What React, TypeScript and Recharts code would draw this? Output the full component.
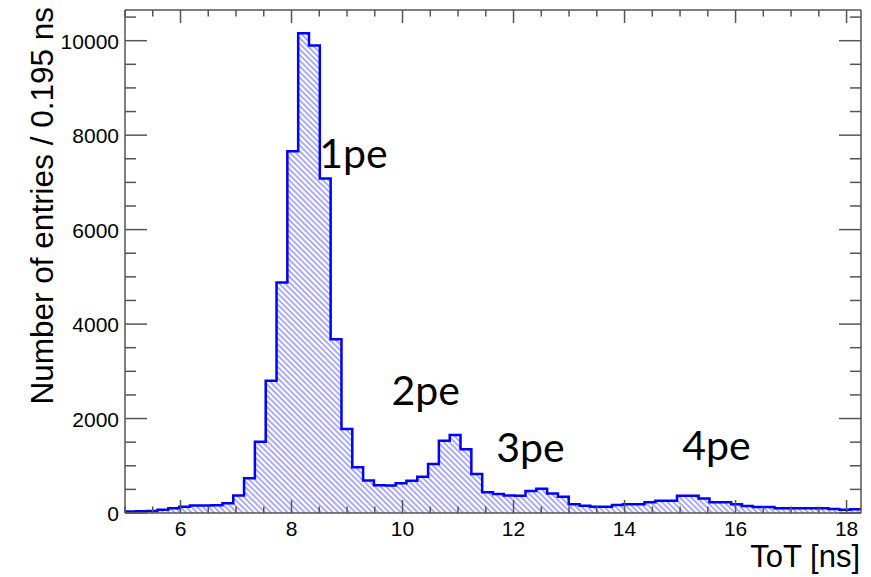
import {
  ComposedChart,
  Area,
  XAxis,
  YAxis,
  ReferenceDot,
  Label,
} from 'recharts';

// ── Données ────────────────────────────────────────────────

const BIN_START = 5;
const BIN_WIDTH = 0.195;

// entries per 0.195 ns bin, starting at 5 ns (68 bins)
const COUNTS = [
  30, 35, 40, 70, 100, 130, 160, 160, 165, 205,
  370, 735, 1510, 2800, 4880, 7660, 10160, 9900, 7080, 3680,
  1780, 970, 690, 590, 580, 630, 685, 770, 1040, 1530,
  1650, 1350, 825, 440, 400, 370, 365, 465, 515, 415,
  345, 185, 155, 130, 130, 170, 185, 185, 225, 260,
  260, 365, 365, 305, 225, 225, 185, 150, 125, 125,
  100, 100, 100, 100, 100, 85, 70, 80,
];

const X_TICKS = [
  5, 5.5, 6, 6.5, 7, 7.5, 8, 8.5, 9, 9.5, 10, 10.5, 11, 11.5,
  12, 12.5, 13, 13.5, 14, 14.5, 15, 15.5, 16, 16.5, 17, 17.5, 18,
];
const Y_TICKS = [
  0, 500, 1000, 1500, 2000, 2500, 3000, 3500, 4000, 4500, 5000,
  5500, 6000, 6500, 7000, 7500, 8000, 8500, 9000, 9500, 10000, 10500,
];

const PE_TEXT = ['1pe', '2pe', '3pe', '4pe'];
const PE_X = [8.5, 9.8, 11.69, 15.04];
const PE_Y = [7300, 2290, 1090, 1120];

const X_MAX = BIN_START + COUNTS.length * BIN_WIDTH;
const Y_MAX = 10650;

// step points : bin low edges + closing edge
const data = [
  ...COUNTS.map((c, i) => ({ x: BIN_START + i * BIN_WIDTH, y: c })),
  { x: X_MAX, y: COUNTS[COUNTS.length - 1] },
];

// ── Styles ─────────────────────────────────────────────────

const FRAME = '#555555';
const SANS = '"Liberation Sans", Arial, Helvetica, sans-serif';

// ── Ticks (tournés vers l'intérieur, façon ROOT) ───────────

function BottomTick({ x, y, payload }: any) {
  const v = payload.value;
  const major = v % 2 === 0;
  return (
    <g>
      <line x1={x} x2={x} y1={y} y2={y - (major ? 13 : 6.5)} stroke={FRAME} strokeWidth={1.5} />
      {major && (
        <text x={x} y={y + 23} textAnchor="middle" fontSize={21} fontFamily={SANS} fill="#000">
          {v}
        </text>
      )}
    </g>
  );
}

function TopTick({ x, y, payload }: any) {
  const major = payload.value % 2 === 0;
  return <line x1={x} x2={x} y1={y} y2={y + (major ? 13 : 6.5)} stroke={FRAME} strokeWidth={1.5} />;
}

function LeftTick({ x, y, payload }: any) {
  const v = payload.value;
  const major = v % 2000 === 0;
  return (
    <g>
      <line x1={x} x2={x + (major ? 22 : 11)} y1={y} y2={y} stroke={FRAME} strokeWidth={1.5} />
      {major && (
        <text x={x - 6} y={y + 8} textAnchor="end" fontSize={21} fontFamily={SANS} fill="#000">
          {v}
        </text>
      )}
    </g>
  );
}

function RightTick({ x, y, payload }: any) {
  const major = payload.value % 2000 === 0;
  return <line x1={x} x2={x - (major ? 22 : 11)} y1={y} y2={y} stroke={FRAME} strokeWidth={1.5} />;
}

function PeLabel({ viewBox, text }: any) {
  const cx = viewBox.x + viewBox.width / 2;
  const cy = viewBox.y + viewBox.height / 2;
  return (
    <text x={cx} y={cy} fontSize={41} fontFamily="Lato, 'Open Sans', sans-serif" fill="#000">
      {text}
    </text>
  );
}

// ── Composant ──────────────────────────────────────────────

export default function App() {
  return (
    <div style={{ width: 871, height: 577, background: '#fff' }}>
      <style>{'body{margin:0}'}</style>
      <ComposedChart
        width={871}
        height={577}
        data={data}
        margin={{ top: 9, right: 9, bottom: 0, left: 0 }}
      >
        <defs>
          <pattern
            id="hatch"
            patternUnits="userSpaceOnUse"
            width={4}
            height={4}
            patternTransform="rotate(-45)"
          >
            <line x1={1} y1={0} x2={1} y2={4} stroke="#7f7fee" strokeWidth={1.3} />
          </pattern>
        </defs>
        <XAxis
          xAxisId="b"
          type="number"
          dataKey="x"
          domain={[BIN_START, X_MAX]}
          ticks={X_TICKS}
          interval={0}
          allowDataOverflow
          height={64}
          tickSize={0}
          tickMargin={0}
          tickLine={false}
          axisLine={{ stroke: FRAME, strokeWidth: 1.5 }}
          tick={BottomTick}
        >
          <Label
            content={() => (
              <text x={860} y={567} textAnchor="end" fontSize={31} fontFamily={SANS} fill="#000">
                ToT [ns]
              </text>
            )}
          />
        </XAxis>
        <XAxis
          xAxisId="t"
          orientation="top"
          type="number"
          dataKey="x"
          domain={[BIN_START, X_MAX]}
          ticks={X_TICKS}
          interval={0}
          allowDataOverflow
          height={1}
          tickSize={0}
          tickMargin={0}
          tickLine={false}
          axisLine={{ stroke: FRAME, strokeWidth: 1.5 }}
          tick={TopTick}
        />
        <YAxis
          yAxisId="l"
          type="number"
          domain={[0, Y_MAX]}
          ticks={Y_TICKS}
          interval={0}
          allowDataOverflow
          width={125}
          tickSize={0}
          tickMargin={0}
          tickLine={false}
          axisLine={{ stroke: FRAME, strokeWidth: 1.5 }}
          tick={LeftTick}
        >
          <Label
            content={() => (
              <text
                x={53}
                y={7}
                transform="rotate(-90, 53, 7)"
                textAnchor="end"
                fontSize={31.5}
                fontFamily={SANS}
                fill="#000"
              >
                Number of entries / 0.195 ns
              </text>
            )}
          />
        </YAxis>
        <YAxis
          yAxisId="r"
          orientation="right"
          type="number"
          domain={[0, Y_MAX]}
          ticks={Y_TICKS}
          interval={0}
          allowDataOverflow
          width={1}
          tickSize={0}
          tickMargin={0}
          tickLine={false}
          axisLine={{ stroke: FRAME, strokeWidth: 1.5 }}
          tick={RightTick}
        />
        <Area
          xAxisId="b"
          yAxisId="l"
          type="stepAfter"
          dataKey="y"
          stroke="#0000ff"
          strokeWidth={2.5}
          fill="url(#hatch)"
          fillOpacity={1}
          isAnimationActive={false}
        />
        {PE_TEXT.map((t, i) => (
          <ReferenceDot
            key={t}
            xAxisId="b"
            yAxisId="l"
            x={PE_X[i]}
            y={PE_Y[i]}
            r={0}
            fill="none"
            stroke="none"
            ifOverflow="visible"
            label={<PeLabel text={t} />}
          />
        ))}
      </ComposedChart>
    </div>
  );
}
